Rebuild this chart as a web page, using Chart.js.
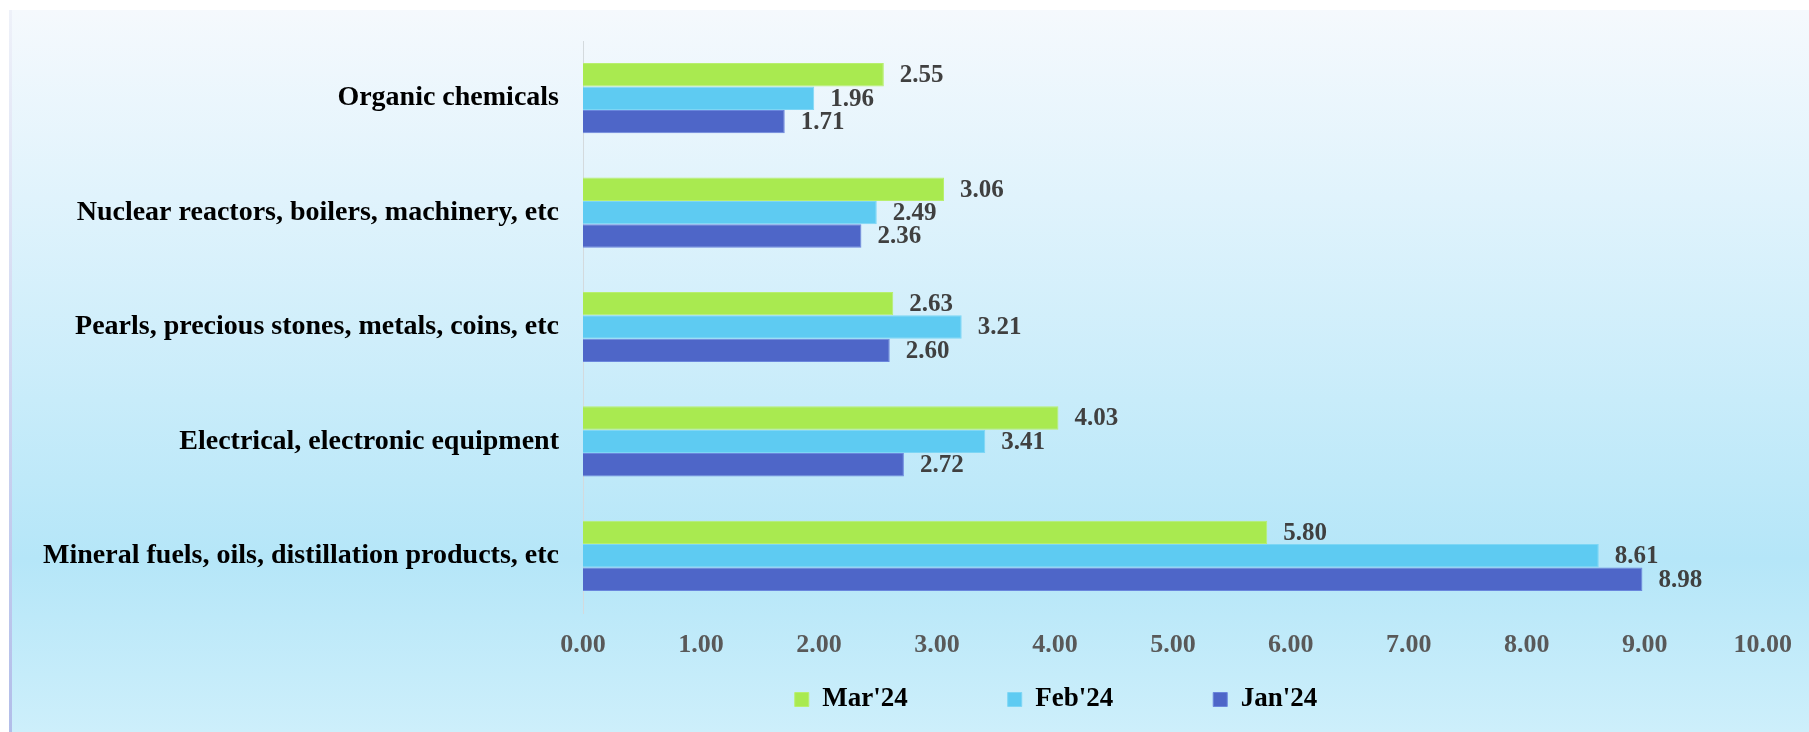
<!DOCTYPE html>
<html>
<head>
<meta charset="utf-8">
<title>Top import commodities</title>
<script src="https://cdn.jsdelivr.net/npm/chart.js@4.4.1/dist/chart.umd.min.js"></script>
<style>
    html, body { margin: 0; padding: 0; background: #ffffff; }
    #wrap { position: relative; width: 1809px; height: 732px; overflow: hidden; }
    #panel {
        position: absolute; left: 9px; top: 10px; right: 0; bottom: 0;
        background: linear-gradient(to bottom, #f5f9fd 0%, #e0f3fc 26%, #c8ecfa 54%, #b5e6f8 76%, #cdeffb 100%);
    }
    #edge {
        position: absolute; left: 9px; top: 10px; bottom: 0; width: 3px;
        background: linear-gradient(to bottom, #eef1f9, #b2bde9);
    }
    canvas { position: absolute; left: 0; top: 0; }
</style>
</head>
<body>
<div id="wrap">
    <div id="panel"></div>
    <div id="edge"></div>
    <canvas id="chart" width="1809" height="732"></canvas>
</div>
<script>
// categories, top to bottom
const categories = [
    "Organic chemicals",
    "Nuclear reactors, boilers, machinery, etc",
    "Pearls, precious stones, metals, coins, etc",
    "Electrical, electronic equipment",
    "Mineral fuels, oils, distillation products, etc"
];

const seriesNames = ["Mar'24", "Feb'24", "Jan'24"];
const mar24 = [2.55, 3.06, 2.63, 4.03, 5.80];
const feb24 = [1.96, 2.49, 3.21, 3.41, 8.61];
const jan24 = [1.71, 2.36, 2.60, 2.72, 8.98];

const xMin = 0;
const xMax = 10;
const xStep = 1;

const serif = '"Liberation Serif", "Times New Roman", serif';

// value labels to the right of every bar
const barValueLabels = {
    id: "barValueLabels",
    afterDatasetsDraw(chart) {
        const ctx = chart.ctx;
        ctx.save();
        ctx.font = `bold 25px ${serif}`;
        ctx.fillStyle = "#404040";
        ctx.textAlign = "left";
        ctx.textBaseline = "middle";
        chart.data.datasets.forEach((dataset, i) => {
            chart.getDatasetMeta(i).data.forEach((bar, j) => {
                ctx.fillText(dataset.data[j].toFixed(2), bar.x + 16, bar.y + 1);
            });
        });
        ctx.restore();
    }
};

// legend sits under the axis, a bit left of the plot centre
const legendPlacement = {
    id: "legendPlacement",
    afterLayout(chart) {
        const legend = chart.legend;
        const pad = legend.options.labels.padding;
        const shift = 1056 - (legend.left + legend.right) / 2;
        legend.left += shift;
        legend.right += shift;
        legend.top = 686 - pad;
    }
};

function createChart() {
    const ctx = document.getElementById("chart").getContext("2d");

    new Chart(ctx, {
        type: "bar",
        data: {
            labels: categories,
            datasets: [{
                label: seriesNames[0],
                data: mar24,
                backgroundColor: "#a9ea50",
                borderColor: "#b8ef6e",
                borderWidth: 1
            }, {
                label: seriesNames[1],
                data: feb24,
                backgroundColor: "#5ecbf2",
                borderColor: "#7dd6f5",
                borderWidth: 1
            }, {
                label: seriesNames[2],
                data: jan24,
                backgroundColor: "#4e66c8",
                borderColor: "#6a86dd",
                borderWidth: 1
            }]
        },
        options: {
            indexAxis: "y",
            responsive: false,
            animation: false,
            events: [],
            categoryPercentage: 0.614,
            barPercentage: 1.0,
            layout: {
                padding: { top: 41, right: 45, bottom: 0, left: 0 }
            },
            scales: {
                x: {
                    min: xMin,
                    max: xMax,
                    grid: { display: false, drawTicks: false },
                    border: { display: false },
                    ticks: {
                        stepSize: xStep,
                        padding: 17,
                        color: "#595959",
                        font: { family: serif, size: 26, weight: "bold" },
                        callback: value => Number(value).toFixed(2)
                    },
                    afterFit: scale => { scale.height = 50; }
                },
                y: {
                    grid: { display: false, drawTicks: false },
                    border: { display: true, color: "#d4dadd", width: 1 },
                    ticks: {
                        padding: 24,
                        color: "#000000",
                        font: { family: serif, size: 28, weight: "bold" }
                    },
                    afterFit: scale => { scale.width = 583; }
                }
            },
            plugins: {
                tooltip: { enabled: false },
                legend: {
                    position: "bottom",
                    maxHeight: 69,
                    labels: {
                        boxWidth: 14,
                        boxHeight: 14,
                        padding: 100,
                        color: "#000000",
                        font: { family: serif, size: 27, weight: "bold" }
                    }
                }
            }
        },
        plugins: [barValueLabels, legendPlacement]
    });
}

createChart();
</script>
</body>
</html>
